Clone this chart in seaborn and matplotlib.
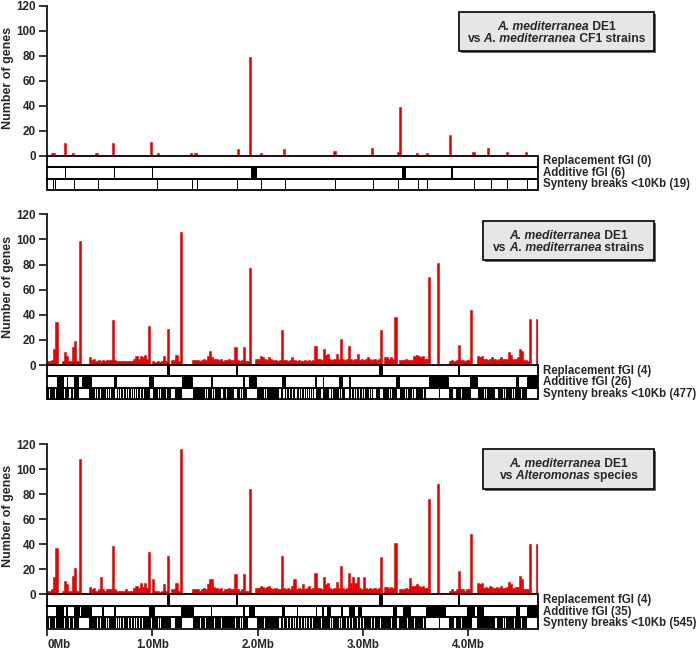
import numpy as np
import pandas as pd
import matplotlib
matplotlib.use('Agg')
import matplotlib.pyplot as plt
from matplotlib.patches import Rectangle
from matplotlib.transforms import IdentityTransform
import seaborn as sns

GENOME_MB = 4.66
BIN_MB = 0.02

# ---- panel 1: DE1 vs CF1 strains (sparse peaks) ----
p1_pos = [0.05, 0.07, 0.17, 0.24, 0.47, 0.63, 0.99, 1.04, 1.37, 1.41, 1.80, 1.93, 2.03,
          2.25, 2.72, 3.09, 3.33, 3.35, 3.51, 3.60, 3.83, 4.05, 4.19, 4.36, 4.56]
p1_genes = [2.5, 2.5, 10, 2.5, 2.5, 10.5, 11, 2.5, 2.5, 2.5, 5.6, 79, 2.5,
            5, 3.7, 5.9, 3.2, 39, 2.5, 2.5, 16.5, 3.2, 5.9, 2.7, 2.7]

# ---- panel 2: DE1 vs A. mediterranea strains, genes per 20 kb bin ----
p2_genes = [
    3, 3, 4, 13, 34, 0, 0, 3, 10, 7,
    3, 3, 14, 19, 3, 99, 0, 0, 0, 0,
    6, 4, 5, 3, 4, 3, 4, 3, 4, 4,
    4, 36, 4, 3, 3, 3, 3, 3, 3, 3,
    3, 5, 7, 5, 7, 6, 8, 5, 31, 0,
    3, 2, 3, 2, 3, 7, 3, 29, 0, 4,
    4, 8, 3, 106, 0, 0, 0, 0, 0, 4,
    4, 4, 3, 4, 5, 4, 7, 11, 6, 5,
    5, 4, 5, 3, 4, 4, 5, 4, 4, 14,
    4, 3, 4, 14, 3, 3, 77, 0, 0, 5,
    5, 7, 6, 5, 4, 6, 5, 4, 4, 3,
    4, 28, 4, 4, 3, 4, 6, 4, 3, 4,
    3, 3, 4, 3, 4, 3, 4, 15, 5, 5,
    4, 13, 8, 9, 5, 4, 5, 9, 5, 21,
    5, 4, 5, 15, 5, 4, 5, 9, 4, 5,
    4, 5, 6, 5, 4, 5, 4, 5, 28, 0,
    6, 6, 5, 6, 5, 38, 0, 4, 4, 4,
    5, 4, 4, 4, 7, 8, 7, 6, 7, 5,
    5, 70, 0, 0, 0, 81, 0, 0, 0, 0,
    0, 3, 4, 3, 4, 16, 4, 4, 3, 4,
    4, 44, 0, 0, 7, 6, 7, 5, 5, 4,
    5, 6, 5, 4, 5, 6, 5, 5, 5, 10,
    8, 5, 5, 6, 13, 11, 4, 4, 3, 37,
    0, 0, 37]

# ---- panel 3: DE1 vs Alteromonas species ----
p3_genes = [
    3, 3, 4, 14, 37, 0, 0, 3, 11, 8,
    3, 3, 15, 21, 3, 108, 0, 0, 0, 0,
    6, 4, 5, 3, 4, 14, 4, 3, 4, 4,
    4, 39, 4, 3, 3, 3, 3, 4, 3, 3,
    3, 5, 7, 5, 9, 6, 9, 5, 34, 0,
    12, 3, 3, 2, 3, 8, 3, 31, 0, 4,
    4, 9, 3, 116, 0, 0, 0, 0, 0, 4,
    4, 4, 3, 4, 5, 4, 8, 12, 12, 6,
    5, 4, 5, 3, 4, 4, 5, 4, 4, 16,
    4, 3, 4, 16, 3, 3, 84, 0, 0, 5,
    5, 7, 6, 5, 6, 7, 5, 4, 5, 4,
    4, 31, 5, 4, 5, 4, 7, 12, 4, 5,
    4, 8, 4, 5, 7, 4, 5, 17, 5, 5,
    4, 14, 8, 9, 5, 4, 5, 10, 5, 23,
    5, 4, 5, 17, 9, 14, 9, 14, 5, 4,
    14, 5, 4, 5, 4, 5, 4, 5, 30, 0,
    6, 6, 5, 6, 5, 41, 0, 4, 4, 4,
    5, 4, 13, 7, 7, 8, 7, 6, 7, 5,
    5, 76, 0, 0, 0, 88, 0, 0, 0, 0,
    0, 3, 4, 3, 4, 19, 4, 4, 3, 4,
    4, 48, 0, 0, 9, 8, 9, 5, 6, 5,
    7, 6, 5, 6, 5, 7, 5, 5, 6, 10,
    8, 5, 6, 6, 15, 12, 4, 4, 4, 40,
    0, 0, 40]

# ---- track rows (start, end in Mb) ----
p1_replacement = []
p1_additive = [(0.174, 0.184), (0.640, 0.650), (0.997, 1.007), (1.94, 1.99), (3.37, 3.41), (3.835, 3.86)]
p1_synteny = [0.057, 0.076, 0.256, 0.487, 1.042, 1.38, 1.427, 1.807, 2.035, 2.257,
              2.735, 3.099, 3.33, 3.523, 3.606, 4.055, 4.213, 4.365, 4.561]

p2_replacement = [(1.137, 1.168), (1.795, 1.811), (3.156, 3.194), (3.906, 3.922)]
p2_additive = [(0.098, 0.161), (0.187, 0.202), (0.256, 0.307), (0.33, 0.425), (0.639, 0.662),
               (0.972, 1.016), (1.279, 1.39), (1.555, 1.574), (1.858, 1.88), (1.921, 1.991),
               (2.229, 2.267), (2.545, 2.567), (2.617, 2.633), (2.776, 2.815), (2.871, 2.887),
               (3.314, 3.352), (3.631, 3.821), (4.017, 4.09), (4.454, 4.486), (4.556, 4.66)]
p2_synteny = [
    (0.000, 0.020), (0.030, 0.045), (0.052, 0.075), (0.090, 0.100), (0.105, 0.160), (0.170, 0.176),
    (0.185, 0.205), (0.225, 0.245), (0.255, 0.300), (0.400, 0.460), (0.470, 0.476), (0.485, 0.500),
    (0.510, 0.560), (0.570, 0.576), (0.585, 0.600), (0.610, 0.650), (0.665, 0.671),
    (0.685, 0.694), (0.700, 0.709), (0.715, 0.724), (0.730, 0.739), (0.745, 0.754), (0.760, 0.769),
    (0.775, 0.784), (0.790, 0.799), (0.810, 0.819), (0.830, 0.839), (0.845, 0.854), (0.860, 0.869),
    (0.875, 0.884), (0.890, 0.899), (0.905, 0.914), (0.920, 0.929),
    (0.930, 0.980), (0.995, 1.001), (1.010, 1.050), (1.065, 1.071), (1.085, 1.130), (1.140, 1.175),
    (1.220, 1.230), (1.235, 1.280), (1.390, 1.450), (1.455, 1.500), (1.510, 1.516), (1.525, 1.570),
    (1.580, 1.586), (1.595, 1.650), (1.660, 1.666), (1.675, 1.700), (1.710, 1.780), (1.800, 1.830),
    (1.845, 1.851), (1.860, 1.900), (1.990, 2.060), (2.070, 2.076), (2.085, 2.200), (2.210, 2.216),
    (2.225, 2.240), (2.260, 2.269), (2.275, 2.284), (2.290, 2.299), (2.305, 2.314), (2.320, 2.329),
    (2.335, 2.344), (2.350, 2.359), (2.370, 2.379), (2.385, 2.394), (2.400, 2.409), (2.420, 2.429),
    (2.435, 2.444), (2.450, 2.459), (2.470, 2.479), (2.490, 2.499), (2.510, 2.519), (2.530, 2.539),
    (2.550, 2.600), (2.620, 2.626), (2.635, 2.680), (2.700, 2.706), (2.720, 2.770), (2.780, 2.790),
    (2.800, 2.830), (2.865, 2.874), (2.880, 2.889), (2.895, 2.904), (2.910, 2.919), (2.925, 2.934),
    (2.940, 2.949), (2.955, 2.964), (2.970, 2.979), (2.985, 2.994), (3.000, 3.009),
    (3.020, 3.060), (3.070, 3.076), (3.085, 3.100), (3.120, 3.160), (3.170, 3.176), (3.190, 3.250),
    (3.260, 3.266), (3.280, 3.320), (3.330, 3.336), (3.350, 3.400), (3.410, 3.416), (3.430, 3.470),
    (3.480, 3.486), (3.500, 3.570), (3.580, 3.600), (3.720, 3.730), (3.820, 3.860), (3.870, 3.876),
    (3.885, 3.930), (3.940, 3.946), (3.955, 4.030), (4.090, 4.150), (4.160, 4.166), (4.175, 4.250),
    (4.260, 4.266), (4.280, 4.330), (4.340, 4.346), (4.360, 4.420), (4.430, 4.436), (4.445, 4.500),
    (4.510, 4.516), (4.525, 4.555)]

p3_replacement = [(1.137, 1.168), (1.795, 1.811), (3.156, 3.194), (3.906, 3.922)]
p3_additive = [(0.089, 0.161), (0.180, 0.203), (0.256, 0.313), (0.326, 0.430), (0.525, 0.541),
               (0.636, 0.658), (0.972, 1.030), (1.269, 1.396), (1.554, 1.570), (1.858, 1.880),
               (1.921, 1.980), (2.229, 2.257), (2.377, 2.387), (2.551, 2.567), (2.615, 2.633),
               (2.660, 2.694), (2.795, 2.811), (2.868, 2.925), (2.950, 2.995), (3.289, 3.327),
               (3.384, 3.454), (3.600, 3.786), (3.986, 4.065), (4.087, 4.150), (4.454, 4.492),
               (4.561, 4.66)]
p3_synteny = [
    (0.000, 0.022), (0.030, 0.047), (0.052, 0.078), (0.088, 0.100), (0.105, 0.165), (0.170, 0.178),
    (0.185, 0.210), (0.222, 0.248), (0.255, 0.305), (0.400, 0.462), (0.470, 0.478), (0.485, 0.505),
    (0.510, 0.565), (0.570, 0.578), (0.585, 0.605), (0.610, 0.655), (0.665, 0.672),
    (0.685, 0.695), (0.700, 0.710), (0.715, 0.725), (0.730, 0.740), (0.745, 0.755), (0.760, 0.770),
    (0.775, 0.785), (0.790, 0.800), (0.805, 0.815), (0.820, 0.830), (0.835, 0.845), (0.850, 0.860),
    (0.865, 0.875), (0.880, 0.890), (0.895, 0.905), (0.910, 0.920), (0.922, 0.928),
    (0.930, 0.985), (0.995, 1.002), (1.010, 1.055), (1.065, 1.072), (1.085, 1.135), (1.140, 1.178),
    (1.215, 1.232), (1.235, 1.282), (1.390, 1.455), (1.460, 1.505), (1.510, 1.517), (1.522, 1.575),
    (1.580, 1.587), (1.592, 1.655), (1.660, 1.667), (1.672, 1.705), (1.710, 1.785), (1.798, 1.835),
    (1.842, 1.852), (1.858, 1.905), (1.990, 2.065), (2.070, 2.077), (2.082, 2.205), (2.210, 2.217),
    (2.222, 2.245), (2.255, 2.265), (2.270, 2.280), (2.285, 2.295), (2.300, 2.310), (2.315, 2.325),
    (2.330, 2.340), (2.345, 2.355), (2.360, 2.370), (2.375, 2.385), (2.390, 2.400), (2.405, 2.415),
    (2.420, 2.430), (2.435, 2.445), (2.450, 2.460), (2.465, 2.475), (2.480, 2.490), (2.495, 2.505),
    (2.510, 2.520), (2.525, 2.535), (2.540, 2.605), (2.615, 2.627), (2.632, 2.685), (2.695, 2.707),
    (2.715, 2.775), (2.780, 2.792), (2.798, 2.835), (2.845, 2.855), (2.860, 2.870), (2.875, 2.885),
    (2.890, 2.900), (2.905, 2.915), (2.920, 2.930), (2.935, 2.945), (2.950, 2.960), (2.965, 2.975),
    (2.980, 2.990), (2.995, 3.005), (3.015, 3.065), (3.070, 3.077), (3.082, 3.105), (3.115, 3.165),
    (3.170, 3.177), (3.185, 3.255), (3.260, 3.267), (3.275, 3.325), (3.330, 3.337), (3.345, 3.405),
    (3.410, 3.417), (3.425, 3.475), (3.480, 3.487), (3.495, 3.575), (3.580, 3.602), (3.720, 3.732),
    (3.815, 3.865), (3.870, 3.877), (3.882, 3.935), (3.940, 3.947), (3.952, 4.032), (4.088, 4.155),
    (4.160, 4.167), (4.172, 4.255), (4.260, 4.267), (4.275, 4.335), (4.340, 4.347), (4.355, 4.425),
    (4.430, 4.437), (4.442, 4.505), (4.510, 4.517), (4.522, 4.556)]

row_names = ['Replacement fGI', 'Additive fGI', 'Synteny breaks <10Kb']
p1_counts = [0, 6, 19]
p2_counts = [4, 26, 477]
p3_counts = [4, 35, 545]

RED = '#e60000'

sns.set_style('white')
plt.rcParams['font.family'] = ['Liberation Sans', 'DejaVu Sans']
plt.rcParams['font.weight'] = 'bold'

W, H = 698, 650
fig = plt.figure(figsize=(W / 100, H / 100), dpi=100)

X_LEFT = 47
PX_PER_MB = 105.3
X_RIGHT = X_LEFT + PX_PER_MB * GENOME_MB
ROW_H = 11.5

n_bins = int(round(GENOME_MB / BIN_MB))
centers = (np.arange(n_bins) + 0.5) * BIN_MB


def px_box(x0, y0, x1, y1):
    # pixel box, top-left origin -> figure fraction rect
    return [x0 / W, 1 - y1 / H, (x1 - x0) / W, (y1 - y0) / H]


def rich_line(pieces, cx, cy, size=8.7):
    """Centered line of bold text made of normal/italic pieces (cy = cap-height centre)."""
    renderer = fig.canvas.get_renderer()
    arts = [fig.text(0, 0, s, transform=IdentityTransform(), fontsize=size,
                     fontstyle=st, fontweight='bold', ha='left', va='baseline')
            for s, st in pieces]
    widths = [a.get_window_extent(renderer).width for a in arts]
    x = cx - sum(widths) / 2
    base = H - (cy + 0.716 * size * 100 / 72 / 2)
    for a, w in zip(arts, widths):
        a.set_position((x, base))
        x += w


panels = [
    dict(top=5.7, zero=155.7, x=p1_pos, w=p1_genes,
         rows=[p1_replacement, p1_additive, [(p, p + 0.01) for p in p1_synteny]],
         counts=p1_counts, box=(459, 12.3, 654.3, 51),
         lines=[[('A. mediterranea', 'italic'), (' DE1', 'normal')],
                [('vs', 'normal'), (' A. mediterranea', 'italic'), (' CF1 strains', 'normal')]]),
    dict(top=214.3, zero=365.0, x=centers, w=p2_genes,
         rows=[p2_replacement, p2_additive, p2_synteny],
         counts=p2_counts, box=(483.3, 220.7, 654.3, 260),
         lines=[[('A. mediterranea', 'italic'), (' DE1', 'normal')],
                [('vs', 'normal'), (' A. mediterranea', 'italic'), (' strains', 'normal')]]),
    dict(top=444.3, zero=594.3, x=centers, w=p3_genes,
         rows=[p3_replacement, p3_additive, p3_synteny],
         counts=p3_counts, box=(483.3, 449.3, 654.3, 489),
         lines=[[('A. mediterranea', 'italic'), (' DE1', 'normal')],
                [('vs', 'normal'), (' Alteromonas', 'italic'), (' species', 'normal')]]),
]

for k, p in enumerate(panels):
    # gene count histogram
    ax = fig.add_axes(px_box(X_LEFT, p['top'], X_RIGHT, p['zero']))
    df = pd.DataFrame({'pos': np.asarray(p['x'], float), 'genes': np.asarray(p['w'], float)})
    sns.histplot(data=df, x='pos', weights='genes', binwidth=BIN_MB, binrange=(0, GENOME_MB),
                 ax=ax, color=RED, alpha=1, edgecolor=RED, linewidth=0.4)
    ax.set_xlim(0, GENOME_MB)
    ax.set_ylim(0, 120)
    ax.set_yticks(range(0, 121, 20))
    ax.set_xticks([])
    ax.set_xlabel('')
    ax.set_ylabel('')
    for s in ['top', 'right', 'bottom']:
        ax.spines[s].set_visible(False)
    ax.spines['left'].set_linewidth(1.4)
    ax.tick_params(axis='y', direction='out', length=6, width=1.3, pad=2, labelsize=8.4, left=True)
    for lab in ax.get_yticklabels():
        lab.set_fontweight('bold')
    ax.patch.set_alpha(0)
    fig.text(8.5 / W, 1 - ((p['top'] + p['zero']) / 2 - 3) / H, 'Number of genes',
             rotation=90, ha='center', va='center', fontsize=9, fontweight='bold')

    # tracks
    tax = fig.add_axes(px_box(X_LEFT, p['zero'], X_RIGHT, p['zero'] + 3 * ROW_H))
    tax.set_xlim(0, GENOME_MB)
    tax.set_ylim(3, 0)
    for i, segs in enumerate(p['rows']):
        if segs:
            tax.broken_barh([(a, b - a) for a, b in segs], (i, 1), facecolors='black',
                            edgecolor='none')
        tax.add_patch(Rectangle((0, i), GENOME_MB, 1, fill=False, edgecolor='black',
                                lw=1.3, clip_on=False))
        fig.text(542.7 / W, 1 - (p['zero'] + (i + 0.5) * ROW_H) / H,
                 f"{row_names[i]} ({p['counts'][i]})", ha='left', va='center',
                 fontsize=8.3, fontweight='bold')
    for s in ['top', 'right', 'left']:
        tax.spines[s].set_visible(False)
    tax.set_yticks([])
    if k == 2:
        tax.spines['bottom'].set_linewidth(1.3)
        tax.set_xticks([0, 1, 2, 3, 4])
        tax.set_xticklabels(['0Mb', '1.0Mb', '2.0Mb', '3.0Mb', '4.0Mb'], fontweight='bold')
        tax.tick_params(axis='x', direction='out', length=5, width=1.3, pad=2, labelsize=8.4,
                        bottom=True)
        tax.get_xticklabels()[0].set_horizontalalignment('left')
    else:
        tax.spines['bottom'].set_visible(False)
        tax.set_xticks([])

    # title box
    x0, y0, x1, y1 = p['box']
    fig.add_artist(Rectangle((x0 / W + 2 / W, 1 - y1 / H - 2 / H), (x1 - x0) / W, (y1 - y0) / H,
                             transform=fig.transFigure, facecolor='#666666', edgecolor='none'))
    fig.add_artist(Rectangle((x0 / W, 1 - y1 / H), (x1 - x0) / W, (y1 - y0) / H,
                             transform=fig.transFigure, facecolor='#e6e6e6',
                             edgecolor='black', lw=1.2))
    cx = (x0 + x1) / 2
    cy = (y0 + y1) / 2
    rich_line(p['lines'][0], cx, cy - 6)
    rich_line(p['lines'][1], cx, cy + 6)

fig.savefig('out.png', dpi=100)
